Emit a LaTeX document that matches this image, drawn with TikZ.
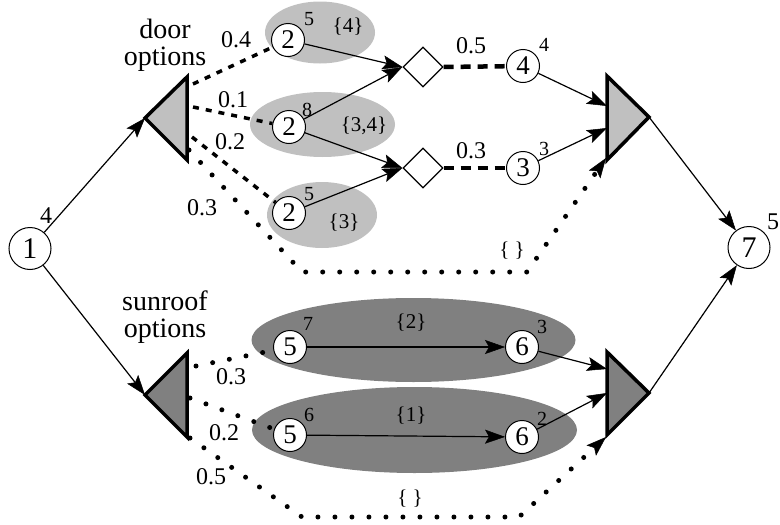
\documentclass[tikz,border=0pt]{standalone}
\usepackage{fontspec}
\setmainfont{Liberation Serif}
\newfontfamily\labelfont{Liberation Serif}
\usetikzlibrary{arrows.meta,shapes.geometric}

\definecolor{doorgray}{HTML}{C0C0C0}
\definecolor{roofgray}{HTML}{808080}

\tikzset{
  every node/.style={inner sep=0pt},
  state/.style={circle,draw,fill=white,line width=1pt,minimum size=33pt,
    font=\labelfont\fontsize{27}{27}\selectfont},
  bigstate/.style={state,minimum size=42pt,font=\labelfont\fontsize{30}{30}\selectfont},
  chance/.style={diamond,draw,fill=white,line width=1.3pt,
    minimum width=40pt,minimum height=40pt},
  cost/.style={font=\labelfont\fontsize{20}{20}\selectfont},
  tag/.style={font=\labelfont\fontsize{21}{21}\selectfont},
  prob/.style={font=\labelfont\fontsize{24}{24}\selectfont},
  bigcost/.style={font=\labelfont\fontsize{24}{24}\selectfont},
  group/.style={font=\labelfont\fontsize{28}{27}\selectfont,align=center},
  tip/.style={-{Stealth[length=20pt,width=14pt,inset=4pt,line width=0.5pt]}},
  arr/.style={line width=1.2pt,tip},
  dashedge/.style={line width=3.5pt,dash pattern=on 6pt off 7pt},
  longdash/.style={line width=4.5pt,dash pattern=on 10pt off 7pt},
  dotedge/.style={line width=5pt,line cap=round,dash pattern=on 0pt off 17pt},
  dotarr/.style={dotedge,line join=round,tip},
  tri/.style={draw,line width=3.5pt,line join=miter},
}

\begin{document}
\begin{tikzpicture}[x=1pt,y=-1pt]
\useasboundingbox (0,0) rectangle (780,525);

% ---- shaded groups ----
\fill[doorgray] (320,32.5) ellipse [x radius=55, y radius=31];
\fill[doorgray] (322.5,124.5) ellipse [x radius=72.5, y radius=32.5];
\fill[doorgray] (322,215) ellipse [x radius=55, y radius=33];
\fill[roofgray] (413.5,340) ellipse [x radius=162, y radius=42];
\fill[roofgray] (414.5,430) ellipse [x radius=162.5, y radius=43];

% ---- triangle corners ----
\coordinate (ldA) at (145,118);  \coordinate (ldT) at (187,77);  \coordinate (ldB) at (187,160);
\coordinate (lsA) at (145,395);  \coordinate (lsT) at (187,353); \coordinate (lsB) at (187,437);
\coordinate (rdA) at (649,117);  \coordinate (rdT) at (607,76);  \coordinate (rdB) at (607,160);
\coordinate (rsA) at (649,393);  \coordinate (rsT) at (607,352); \coordinate (rsB) at (607,435);

% entry points on the right triangles
\coordinate (rdIn1) at (607,106); \coordinate (rdIn2) at (607,128); \coordinate (rdIn3) at (606,158);
\coordinate (rsIn1) at (607,369); \coordinate (rsIn2) at (607,393); \coordinate (rsIn3) at (606,437);

% exit points on the left triangles
\coordinate (ldO1) at (193,84);  \coordinate (ldO2) at (193,107);
\coordinate (ldO3) at (192,137); \coordinate (ldO4) at (189,150);
\coordinate (lsO1) at (196,366); \coordinate (lsO2) at (190,398); \coordinate (lsO3) at (190,438);

% bends of the empty-option paths
\coordinate (up1) at (302,272); \coordinate (up2) at (527,272);
\coordinate (lo1) at (302,517); \coordinate (lo2) at (519,517);

% ---- nodes ----
\node[bigstate] (n1) at (30,248.5) {1};
\node[bigstate] (n7) at (749,247.5) {7};

\node[state] (d2a) at (288,40) {2};
\node[state] (d2b) at (289,127) {2};
\node[state] (d2c) at (289,213) {2};
\node[chance] (dA) at (423,67) {};
\node[chance] (dB) at (423,168) {};
\node[state] (n4) at (523,66) {4};
\node[state] (n3) at (523,168) {3};

\node[state] (s5a) at (290,347) {5};
\node[state] (s6a) at (522,347) {6};
\node[state] (s5b) at (290,435) {5};
\node[state] (s6b) at (522,437) {6};

% ---- triangles ----
\draw[tri,fill=doorgray] (ldA) -- (ldT) -- (ldB) -- cycle;
\draw[tri,fill=roofgray] (lsA) -- (lsT) -- (lsB) -- cycle;
\draw[tri,fill=doorgray] (rdA) -- (rdT) -- (rdB) -- cycle;
\draw[tri,fill=roofgray] (rsA) -- (rsT) -- (rsB) -- cycle;

% ---- solid connectors ----
\draw[arr] (n1) -- (ldA);
\draw[arr] (n1) -- (lsA);
\draw[arr] (rdA) -- (n7);
\draw[arr] (rsA) -- (n7);

\draw[arr] (d2a) -- (dA.west);
\draw[arr] (d2b) -- (dA.west);
\draw[arr] (d2b) -- (dB.west);
\draw[arr] (d2c) -- (dB.west);
\draw[arr] (n4) -- (rdIn1);
\draw[arr] (n3) -- (rdIn2);

\draw[arr] (s5a) -- (s6a);
\draw[arr] (s5b) -- (s6b);
\draw[arr] (s6a) -- (rsIn1);
\draw[arr] (s6b) -- (rsIn2);

% ---- option branches ----
\draw[dashedge] (ldO1) -- (d2a);
\draw[dashedge] (ldO2) -- (d2b);
\draw[dashedge] (ldO3) -- (d2c);
\draw[dotarr] (ldO4) -- (up1) -- (up2) -- (rdIn3);

\draw[longdash] (dA.east) -- (n4);
\draw[longdash] (dB.east) -- (n3);

\draw[dotedge] (lsO1) -- (s5a);
\draw[dotedge] (lsO2) -- (s5b);
\draw[dotarr] (lsO3) -- (lo1) -- (lo2) -- (rsIn3);

% ---- labels ----
\node[group] (gdoor) at (165,45) {door\\options};
\node[group] (groof) at (165,317.5) {sunroof\\options};

\node[bigcost] (c1) at (46,216) {4};
\node[bigcost] (c7) at (773,222) {5};

\node[cost] (c2a) at (309,19) {5};
\node[tag]  (t2a) at (348,27) {\{4\}};
\node[cost] (c2b) at (307,110) {8};
\node[tag]  (t2b) at (364,126) {\{3,4\}};
\node[cost] (c2c) at (309,194) {5};
\node[tag]  (t2c) at (344,223) {\{3\}};

\node[cost] (c4) at (544,45) {4};
\node[cost] (c3) at (544,149) {3};

\node[cost] (c5a) at (308,324) {7};
\node[tag]  (t5a) at (411,323) {\{2\}};
\node[cost] (c6a) at (542,327) {3};
\node[cost] (c5b) at (309,415) {6};
\node[tag]  (t5b) at (411,416) {\{1\}};
\node[cost] (c6b) at (542,419) {2};

\node[tag] (tup) at (512,251) {\{ \}};
\node[tag] (tlo) at (410,499) {\{ \}};

\node[prob] (p04) at (236,40) {0.4};
\node[prob] (p01) at (233,100) {0.1};
\node[prob] (p02) at (230,142) {0.2};
\node[prob] (p03) at (202,208) {0.3};
\node[prob] (p05d) at (471,46) {0.5};
\node[prob] (p03d) at (471,151) {0.3};

\node[prob] (q03) at (231,377) {0.3};
\node[prob] (q02) at (224,433) {0.2};
\node[prob] (q05) at (211,477) {0.5};
\end{tikzpicture}
\end{document}
